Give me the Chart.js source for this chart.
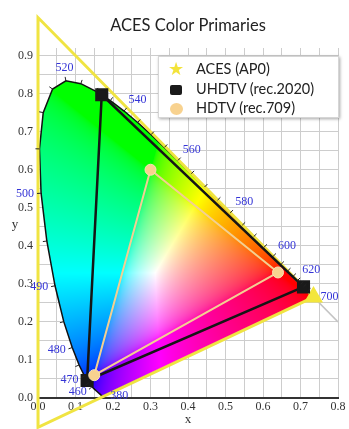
<!DOCTYPE html>
<html>
<head>
<meta charset="utf-8">
<script src="https://cdn.jsdelivr.net/npm/chart.js@4.4.1/dist/chart.umd.min.js"></script>
<style>
  html, body { margin: 0; padding: 0; background: #fff; }
  #wrap { position: relative; width: 349px; height: 429px; }
  #legend {
    position: absolute; left: 158px; top: 56px; width: 179px; height: 60px;
    background: #fff; border: 1px solid #d6d6d6;
    box-shadow: 1px 1px 3px rgba(0,0,0,0.35);
    font-family: Lato, "Open Sans", sans-serif; font-size: 14.5px; color: #222;
  }
  #legend .row { position: absolute; left: 0; height: 20px; line-height: 20px; white-space: nowrap; }
  #legend .mk { position: absolute; left: 7px; width: 20px; text-align: center; }
  #legend .tx { position: absolute; left: 37px; }
  .sq { display: inline-block; width: 12px; height: 10px; background: #1a1a1a; border-radius: 2px; vertical-align: middle; }
  .ci { display: inline-block; width: 13px; height: 12px; background: #f8d28f; border-radius: 50%; vertical-align: middle; }
</style>
</head>
<body>
<div id="wrap">
  <canvas id="myChart" width="349" height="429"></canvas>
  <div id="legend"></div>
</div>
<script>
// CIE 1931 spectral locus (chromaticity x, y)
var wavelengths = [380, 390, 400, 410, 420, 430, 440, 450, 455, 460, 465, 470, 475, 480, 485, 490, 495, 500, 505, 510,
                   515, 520, 525, 530, 535, 540, 545, 550, 555, 560, 565, 570, 575, 580, 585, 590, 595, 600, 605, 610,
                   615, 620, 625, 630, 640, 650, 660, 670, 680, 700];
var locusX = [0.1741, 0.1738, 0.1733, 0.1726, 0.1714, 0.1689, 0.1644, 0.1566, 0.1510, 0.1440, 0.1355, 0.1241, 0.1096, 0.0913, 0.0687, 0.0454, 0.0235, 0.0082, 0.0039, 0.0139,
              0.0389, 0.0743, 0.1142, 0.1547, 0.1929, 0.2296, 0.2658, 0.3016, 0.3373, 0.3731, 0.4087, 0.4441, 0.4788, 0.5125, 0.5448, 0.5752, 0.6029, 0.6270, 0.6482, 0.6658,
              0.6801, 0.6915, 0.7006, 0.7079, 0.7190, 0.7260, 0.7300, 0.7320, 0.7334, 0.7347];
var locusY = [0.0050, 0.0049, 0.0048, 0.0048, 0.0051, 0.0069, 0.0109, 0.0177, 0.0227, 0.0297, 0.0399, 0.0578, 0.0868, 0.1327, 0.2007, 0.2950, 0.4127, 0.5384, 0.6548, 0.7502,
              0.8120, 0.8338, 0.8262, 0.8059, 0.7816, 0.7543, 0.7243, 0.6923, 0.6589, 0.6245, 0.5896, 0.5547, 0.5202, 0.4866, 0.4544, 0.4242, 0.3965, 0.3725, 0.3514, 0.3340,
              0.3197, 0.3083, 0.2993, 0.2920, 0.2809, 0.2740, 0.2700, 0.2680, 0.2666, 0.2653];
var labeledWavelengths = [380, 460, 470, 480, 490, 500, 520, 540, 560, 580, 600, 620, 700];
var tickWavelengths = [460, 465, 470, 475, 480, 485, 490, 495, 500, 505, 510, 515, 520, 525, 530, 535, 540, 545, 550, 555,
                       560, 565, 570, 575, 580, 585, 590, 595, 600, 605, 610, 615, 620, 625, 630, 640];

// primaries: red, green, blue
var acesX = [0.7347, 0.0, 0.0001];
var acesY = [0.2653, 1.0, -0.0770];
var rec2020X = [0.708, 0.170, 0.131];
var rec2020Y = [0.292, 0.797, 0.046];
var rec709X = [0.64, 0.30, 0.15];
var rec709Y = [0.33, 0.60, 0.06];

// x + y = 1 reference line
var refX = [0.0, 0.8];
var refY = [1.0, 0.2];

var seriesNames = ['ACES (AP0)', 'UHDTV (rec.2020)', 'HDTV (rec.709)'];

var xTicks = [0, 0.05, 0.1, 0.15, 0.2, 0.25, 0.3, 0.35, 0.4, 0.45, 0.5, 0.55, 0.6, 0.65, 0.7, 0.75, 0.8];
var yTicks = [0, 0.05, 0.1, 0.15, 0.2, 0.25, 0.3, 0.35, 0.4, 0.45, 0.5, 0.55, 0.6, 0.65, 0.7, 0.75, 0.8, 0.85, 0.9];

function toPoints(xs, ys, close) {
    var pts = xs.map(function(v, i) { return { x: v, y: ys[i] }; });
    if (close) pts.push({ x: xs[0], y: ys[0] });
    return pts;
}

function tickLabel(v) {
    var t = v * 10;
    return Math.abs(t - Math.round(t)) < 1e-6 ? v.toFixed(1) : '';
}

// xy chromaticity -> displayable sRGB, max-normalised
function xyToRgb(x, y) {
    if (y < 0.002) y = 0.002;
    var X = x / y, Y = 1, Z = (1 - x - y) / y;
    var r = 3.2406 * X - 1.5372 * Y - 0.4986 * Z;
    var g = -0.9689 * X + 1.8758 * Y + 0.0415 * Z;
    var b = 0.0557 * X - 0.2040 * Y + 1.0570 * Z;
    r = Math.max(r, 0); g = Math.max(g, 0); b = Math.max(b, 0);
    var m = Math.max(r, g, b) || 1;
    return [r / m, g / m, b / m].map(function(c) {
        c = c <= 0.0031308 ? 12.92 * c : 1.055 * Math.pow(c, 1 / 2.4) - 0.055;
        return Math.round(Math.min(1, c) * 255);
    });
}

function locusPixels(chart) {
    var xs = chart.scales.x, ys = chart.scales.y;
    return {
        px: locusX.map(function(v) { return xs.getPixelForValue(v); }),
        py: locusY.map(function(v) { return ys.getPixelForValue(v); })
    };
}

// paints the colour gamut inside the spectral locus
var gamutPlugin = {
    id: 'gamut',
    beforeDatasetsDraw: function(chart) {
        var ctx = chart.ctx, xs = chart.scales.x, ys = chart.scales.y;
        var p = locusPixels(chart);
        var x0 = Math.floor(Math.min.apply(null, p.px)), x1 = Math.ceil(Math.max.apply(null, p.px));
        var y0 = Math.floor(Math.min.apply(null, p.py)), y1 = Math.ceil(Math.max.apply(null, p.py));
        var w = x1 - x0 + 1, h = y1 - y0 + 1;
        var off = document.createElement('canvas');
        off.width = w; off.height = h;
        var octx = off.getContext('2d');
        var img = octx.createImageData(w, h);
        for (var j = 0; j < h; j++) {
            var cy = ys.getValueForPixel(y0 + j + 0.5);
            for (var i = 0; i < w; i++) {
                var cx = xs.getValueForPixel(x0 + i + 0.5);
                var c = xyToRgb(cx, cy);
                var k = (j * w + i) * 4;
                img.data[k] = c[0]; img.data[k + 1] = c[1]; img.data[k + 2] = c[2]; img.data[k + 3] = 255;
            }
        }
        octx.putImageData(img, 0, 0);
        ctx.save();
        ctx.beginPath();
        ctx.moveTo(p.px[0], p.py[0]);
        for (var n = 1; n < p.px.length; n++) ctx.lineTo(p.px[n], p.py[n]);
        ctx.closePath();
        ctx.clip();
        ctx.drawImage(off, x0, y0);
        ctx.restore();
    }
};

// wavelength ticks and labels along the locus, plus the axis letters
var locusLabelPlugin = {
    id: 'locusLabels',
    afterDatasetsDraw: function(chart) {
        var ctx = chart.ctx;
        var p = locusPixels(chart);
        var last = p.px.length - 1;
        function normalAt(k) {
            if (k === 0 || k === last) return [1, 0];
            var tx = p.px[k + 1] - p.px[k - 1], ty = p.py[k + 1] - p.py[k - 1];
            var L = Math.hypot(tx, ty) || 1;
            return [ty / L, -tx / L];
        }
        ctx.save();
        ctx.strokeStyle = '#222';
        ctx.lineWidth = 1;
        tickWavelengths.forEach(function(wl) {
            var k = wavelengths.indexOf(wl);
            if (k < 0) return;
            var nv = normalAt(k);
            ctx.beginPath();
            ctx.moveTo(p.px[k], p.py[k]);
            ctx.lineTo(p.px[k] + nv[0] * 4, p.py[k] + nv[1] * 4);
            ctx.stroke();
        });
        ctx.fillStyle = '#3434d6';
        ctx.font = '12px "Liberation Serif", "DejaVu Serif", serif';
        labeledWavelengths.forEach(function(wl) {
            var k = wavelengths.indexOf(wl);
            if (k < 0) return;
            var nv = normalAt(k);
            ctx.textAlign = nv[0] > 0.3 ? 'left' : (nv[0] < -0.3 ? 'right' : 'center');
            ctx.textBaseline = nv[1] < -0.69 ? 'bottom' : (nv[1] > 0.69 ? 'top' : 'middle');
            ctx.fillText(String(wl), p.px[k] + nv[0] * 7, p.py[k] + nv[1] * 7);
        });
        ctx.restore();
    },
    afterDraw: function(chart) {
        var ctx = chart.ctx;
        ctx.save();
        ctx.fillStyle = '#333';
        ctx.font = '13px "Liberation Serif", "DejaVu Serif", serif';
        ctx.textAlign = 'center';
        ctx.textBaseline = 'middle';
        ctx.fillText('x', (chart.chartArea.left + chart.chartArea.right) / 2, 420);
        ctx.fillText('y', 15, chart.scales.y.getPixelForValue(0.455));
        ctx.restore();
    }
};

var serifTicks = { family: '"Liberation Serif", "DejaVu Serif", serif', size: 12 };

var ctx = document.getElementById('myChart').getContext('2d');
var myChart = new Chart(ctx, {
    type: 'scatter',
    data: {
        datasets: [{
            label: seriesNames[2],
            data: toPoints(rec709X, rec709Y, true),
            showLine: true,
            borderColor: '#f3cf92',
            borderWidth: 2,
            pointRadius: [5.5, 5.5, 5.5, 0],
            pointBackgroundColor: '#f8d28f',
            pointBorderColor: '#fbe2b8',
            pointBorderWidth: 1,
            order: 0
        }, {
            label: seriesNames[1],
            data: toPoints(rec2020X, rec2020Y, true),
            showLine: true,
            borderColor: '#151515',
            borderWidth: 2.5,
            pointStyle: 'rect',
            pointRadius: [7.5, 7.5, 7.5, 0],
            pointBackgroundColor: '#1a1a1a',
            pointBorderColor: '#1a1a1a',
            order: 1
        }, {
            label: seriesNames[0],
            data: toPoints(acesX, acesY, true),
            showLine: true,
            clip: false,
            borderColor: '#f0e442',
            borderWidth: 3,
            pointStyle: 'triangle',
            pointRadius: [8, 8, 8, 0],
            pointBackgroundColor: '#f3e63c',
            pointBorderColor: '#f3e63c',
            order: 2
        }, {
            label: 'spectral locus',
            data: toPoints(locusX, locusY, true),
            showLine: true,
            borderColor: '#111',
            borderWidth: 1.5,
            pointRadius: 0,
            order: 3
        }, {
            label: 'x+y=1',
            data: toPoints(refX, refY, false),
            showLine: true,
            borderColor: '#c4c4c4',
            borderWidth: 1.5,
            pointRadius: 0,
            order: 4
        }]
    },
    options: {
        responsive: false,
        animation: false,
        events: [],
        devicePixelRatio: 1,
        layout: { padding: { left: 0, right: 7, top: 0, bottom: 0 } },
        plugins: {
            legend: { display: false },
            tooltip: { enabled: false },
            title: {
                display: true,
                fullSize: false,
                text: 'ACES Color Primaries',
                color: '#222',
                font: { family: 'Lato, "Open Sans", sans-serif', size: 16.5, weight: 'normal' },
                padding: { top: 16, bottom: 12.2 }
            }
        },
        scales: {
            x: {
                type: 'linear',
                min: 0,
                max: 0.8,
                afterBuildTicks: function(scale) { scale.ticks = xTicks.map(function(v) { return { value: v }; }); },
                afterFit: function(scale) { scale.height = 31; },
                ticks: {
                    autoSkip: false, maxRotation: 0, padding: 2,
                    color: '#333', font: serifTicks,
                    callback: function(value) { return tickLabel(value); }
                },
                grid: { color: '#cdcdcd', lineWidth: 1, drawTicks: false },
                border: { color: '#333', width: 2 }
            },
            y: {
                type: 'linear',
                min: 0,
                max: 0.92,
                afterBuildTicks: function(scale) { scale.ticks = yTicks.map(function(v) { return { value: v }; }); },
                afterFit: function(scale) { scale.width = 38; },
                ticks: {
                    autoSkip: false, padding: 5,
                    color: '#333', font: serifTicks,
                    callback: function(value) { return tickLabel(value); }
                },
                grid: { color: '#cdcdcd', lineWidth: 1, drawTicks: false },
                border: { display: false }
            }
        }
    },
    plugins: [gamutPlugin, locusLabelPlugin]
});

// legend box, built from the dataset labels
var legendMarks = ['<span style="color:#f3e33a;font-size:18px;font-family:\'DejaVu Sans\'">&#9733;</span>',
                   '<span class="sq"></span>',
                   '<span class="ci"></span>'];
var legendHtml = '';
seriesNames.forEach(function(name, i) {
    legendHtml += '<div class="row" style="top:' + (2 + i * 19.5) + 'px"><span class="mk">' + legendMarks[i] +
                  '</span><span class="tx">' + name + '</span></div>';
});
document.getElementById('legend').innerHTML = legendHtml;
</script>
</body>
</html>
